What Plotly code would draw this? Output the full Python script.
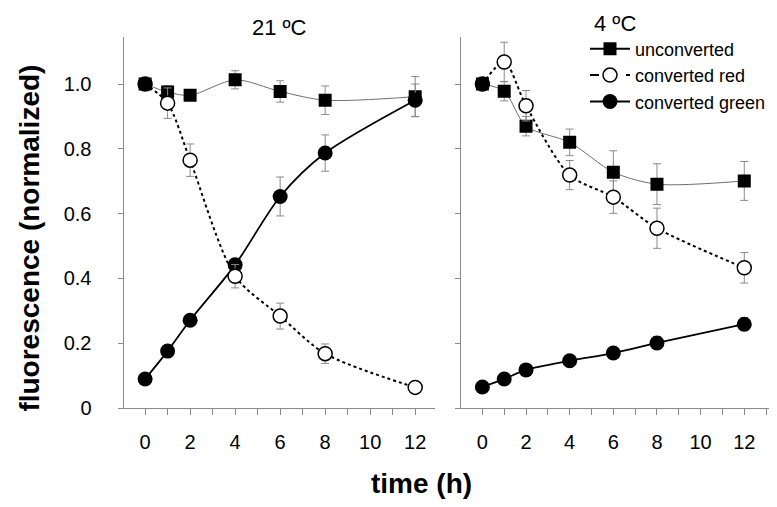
import plotly.graph_objects as go

# ---- data ----
time_h = [0, 1, 2, 4, 6, 8, 12]

# 21 ºC
warm_unconv = [1.00, 0.975, 0.965, 1.013, 0.977, 0.950, 0.961]
warm_unconv_err = [0.0, 0.02, 0.015, 0.028, 0.033, 0.044, 0.062]
warm_red = [1.00, 0.941, 0.765, 0.407, 0.284, 0.168, 0.064]
warm_red_err = [0.0, 0.047, 0.05, 0.036, 0.04, 0.03, 0.015]
warm_green = [0.09, 0.176, 0.271, 0.442, 0.653, 0.787, 0.950]
warm_green_err = [0.0, 0.015, 0.015, 0.02, 0.06, 0.056, 0.05]

# 4 ºC
cold_unconv = [1.00, 0.978, 0.870, 0.820, 0.728, 0.691, 0.701]
cold_unconv_err = [0.0, 0.03, 0.03, 0.041, 0.066, 0.063, 0.06]
cold_red = [1.00, 1.068, 0.933, 0.719, 0.651, 0.555, 0.433]
cold_red_err = [0.0, 0.061, 0.047, 0.045, 0.05, 0.062, 0.047]
cold_green = [0.065, 0.090, 0.118, 0.146, 0.170, 0.201, 0.259]
cold_green_err = [0.0, 0.01, 0.01, 0.012, 0.012, 0.02, 0.02]

panel_titles = ["21 ºC", "4 ºC"]
legend_names = ["unconverted", "converted red", "converted green"]
y_tickvals = [0, 0.2, 0.4, 0.6, 0.8, 1.0]
y_ticktext = ["0", "0.2", "0.4", "0.6", "0.8", "1.0"]
x_tickvals = [0, 2, 4, 6, 8, 10, 12]

FONT = "Liberation Sans, Arial, sans-serif"
AXC = "#8a8a8a"
ERRC = "#8a8a8a"

W, H = 777, 507

fig = go.Figure()


def err(vals):
    return dict(type="data", array=vals, color=ERRC, thickness=1, width=4, visible=True)


def add_panel(xa, ya, unconv, unconv_e, red, red_e, green, green_e):
    fig.add_trace(go.Scatter(
        x=time_h, y=unconv, xaxis=xa, yaxis=ya, mode="lines+markers",
        line=dict(color="#6e6e6e", width=1, shape="spline", smoothing=0.8),
        marker=dict(symbol="square", size=13, color="black"),
        error_y=err(unconv_e), showlegend=False, hoverinfo="skip"))
    fig.add_trace(go.Scatter(
        x=time_h, y=green, xaxis=xa, yaxis=ya, mode="lines+markers",
        line=dict(color="black", width=1.8, shape="spline", smoothing=0.8),
        marker=dict(symbol="circle", size=15, color="black"),
        error_y=err(green_e), showlegend=False, hoverinfo="skip"))
    fig.add_trace(go.Scatter(
        x=time_h, y=red, xaxis=xa, yaxis=ya, mode="lines+markers",
        line=dict(color="black", width=2, dash="dot", shape="spline", smoothing=0.8),
        marker=dict(symbol="circle", size=14,
                    color=["black"] + ["white"] * (len(red) - 1),
                    line=dict(color="black", width=1.5)),
        error_y=err(red_e), showlegend=False, hoverinfo="skip"))


add_panel("x", "y", warm_unconv, warm_unconv_err, warm_red, warm_red_err, warm_green, warm_green_err)
add_panel("x2", "y2", cold_unconv, cold_unconv_err, cold_red, cold_red_err, cold_green, cold_green_err)

# legend entries
fig.add_trace(go.Scatter(x=[None], y=[None], mode="lines+markers", name=legend_names[0],
                         legendgroup="a", line=dict(color="black", width=2),
                         marker=dict(symbol="square", size=13, color="black")))
fig.add_trace(go.Scatter(x=[None], y=[None], mode="lines+markers", name=legend_names[1],
                         legendgroup="b", line=dict(color="black", width=2, dash="dash"),
                         marker=dict(symbol="circle", size=14, color="white",
                                     line=dict(color="black", width=1.5))))
fig.add_trace(go.Scatter(x=[None], y=[None], mode="lines+markers", name=legend_names[2],
                         legendgroup="c", line=dict(color="black", width=2),
                         marker=dict(symbol="circle", size=15, color="black")))

y_dom = [1 - 409 / H, 1 - 30 / H]

common_x = dict(showgrid=False, zeroline=False, showline=True, linecolor=AXC, linewidth=1,
                ticks="outside", ticklen=6, tickcolor=AXC, tickwidth=1,
                tickvals=x_tickvals, ticklabelstandoff=10,
                tickfont=dict(family=FONT, size=20, color="black"),
                minor=dict(dtick=1, ticks="outside", ticklen=6, tickcolor=AXC, tickwidth=1))
common_y = dict(showgrid=False, zeroline=False, showline=True, linecolor=AXC, linewidth=1,
                ticks="outside", ticklen=5, tickcolor=AXC, tickwidth=1,
                tickvals=y_tickvals, range=[0, 1.144], domain=y_dom)

fig.update_layout(
    width=W, height=H,
    margin=dict(l=0, r=0, t=0, b=0),
    paper_bgcolor="white", plot_bgcolor="white",
    font=dict(family=FONT, color="black"),
    xaxis=dict(common_x, domain=[115.5 / W, 427 / W], range=[-0.96, 12.88], anchor="y"),
    xaxis2=dict(common_x, domain=[453 / W, 769 / W], range=[-0.98, 13.5], anchor="y2"),
    yaxis=dict(common_y, ticktext=y_ticktext, ticklabelstandoff=22,
               tickfont=dict(family=FONT, size=20, color="black"), anchor="x"),
    yaxis2=dict(common_y, showticklabels=False, anchor="x2"),
    legend=dict(x=577 / W, y=1 - 23 / H, xanchor="left", yanchor="top",
                font=dict(family=FONT, size=18, color="black"),
                bgcolor="rgba(0,0,0,0)", traceorder="grouped", tracegroupgap=0,
                itemwidth=40),
    annotations=[
        dict(text=panel_titles[0], x=271.7 / W, y=1 - 19.5 / H, xref="paper", yref="paper",
             showarrow=False, xanchor="center", yanchor="middle",
             font=dict(family=FONT, size=22, color="black")),
        dict(text=panel_titles[1], x=607 / W, y=1 - 16 / H, xref="paper", yref="paper",
             showarrow=False, xanchor="center", yanchor="middle",
             font=dict(family=FONT, size=22, color="black")),
        dict(text="<b>fluorescence (normalized)</b>", x=21.7 / W, y=1 - 235 / H,
             xref="paper", yref="paper", showarrow=False, textangle=-90,
             xanchor="center", yanchor="middle",
             font=dict(family=FONT, size=28, color="black")),
        dict(text="<b>time (h)</b>", x=413.5 / W, y=1 - 486 / H, xref="paper", yref="paper",
             showarrow=False, xanchor="center", yanchor="middle",
             font=dict(family=FONT, size=28, color="black")),
    ],
)

fig.write_html("out.html")
